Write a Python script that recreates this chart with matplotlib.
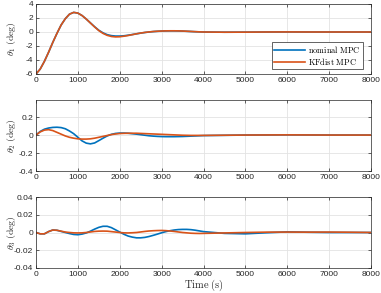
import matplotlib
matplotlib.use("Agg")
import matplotlib.pyplot as plt

plt.rcParams['mathtext.fontset'] = 'cm'
plt.rcParams['font.family'] = ['Liberation Sans', 'DejaVu Sans']

# time samples (s)
t = [0, 100, 200, 300, 400, 500, 600, 700, 800, 900, 1000, 1100, 1200, 1300,
     1400, 1500, 1600, 1700, 1800, 1900, 2000, 2100, 2200, 2300, 2400, 2500,
     2600, 2700, 2800, 2900, 3000, 3100, 3200, 3300, 3400, 3500, 3600, 3700,
     3800, 3900, 4000, 4500, 5000, 5500, 6000, 6500, 7000, 7500, 8000]

# theta1 (deg)
th1_nom = [-6.0, -5.3, -4.2, -2.9, -1.5, -0.2, 1.0, 1.9, 2.55, 2.8, 2.7, 2.35,
           1.85, 1.3, 0.75, 0.25, -0.12, -0.38, -0.52, -0.58, -0.58, -0.54,
           -0.46, -0.36, -0.26, -0.16, -0.07, 0.0, 0.06, 0.1, 0.13, 0.15, 0.16,
           0.16, 0.15, 0.13, 0.1, 0.07, 0.04, 0.02, 0.0, -0.03, -0.02, 0.0,
           0.01, 0.0, 0.0, 0.0, 0.0]
th1_kf = [-6.0, -5.3, -4.2, -2.9, -1.5, -0.2, 1.0, 1.9, 2.55, 2.8, 2.7, 2.35,
          1.85, 1.28, 0.72, 0.2, -0.2, -0.48, -0.64, -0.7, -0.68, -0.6,
          -0.5, -0.38, -0.26, -0.15, -0.06, 0.01, 0.07, 0.11, 0.14, 0.16, 0.17,
          0.17, 0.16, 0.14, 0.11, 0.08, 0.05, 0.02, 0.0, -0.03, -0.02, 0.0,
          0.01, 0.0, 0.0, 0.0, 0.0]

# theta2 (deg)
th2_nom = [0.0, 0.04, 0.065, 0.078, 0.085, 0.087, 0.083, 0.07, 0.045, 0.015,
           -0.025, -0.065, -0.09, -0.098, -0.088, -0.062, -0.035, -0.01, 0.008,
           0.018, 0.022, 0.022, 0.02, 0.015, 0.01, 0.004, -0.002, -0.008,
           -0.012, -0.015, -0.017, -0.018, -0.018, -0.018, -0.017, -0.016,
           -0.014, -0.012, -0.01, -0.008, -0.006, -0.003, 0.0, 0.001, 0.002,
           0.001, 0.0, 0.0, 0.0]
th2_kf = [0.0, 0.035, 0.055, 0.06, 0.05, 0.03, 0.01, -0.01, -0.025, -0.035,
          -0.042, -0.045, -0.045, -0.042, -0.035, -0.025, -0.015, -0.005,
          0.005, 0.012, 0.017, 0.019, 0.02, 0.02, 0.02, 0.018, 0.016, 0.014,
          0.012, 0.01, 0.008, 0.006, 0.004, 0.002, 0.0, -0.002, -0.003,
          -0.004, -0.004, -0.004, -0.004, -0.002, 0.0, 0.001, 0.002, 0.001,
          0.0, 0.0, 0.0]

# theta3 (deg)
th3_nom = [0.0, -0.0015, -0.0015, 0.001, 0.0028, 0.0025, 0.0012, 0.0, -0.0012,
           -0.0022, -0.0025, -0.0018, -0.0005, 0.0015, 0.0038, 0.0058, 0.007,
           0.007, 0.0055, 0.003, 0.0005, -0.002, -0.004, -0.0052, -0.006,
           -0.006, -0.0055, -0.0045, -0.0032, -0.0018, -0.0003, 0.001, 0.002,
           0.0028, 0.0033, 0.0035, 0.0035, 0.0032, 0.0026, 0.0018, 0.001,
           -0.001, -0.0015, -0.0003, 0.0007, 0.0003, 0.0, 0.0, 0.0]
th3_kf = [0.0, -0.0015, -0.0015, 0.001, 0.0028, 0.0025, 0.0015, 0.0005, 0.0,
          -0.0004, -0.0005, -0.0004, 0.0, 0.0006, 0.0012, 0.0015, 0.0016,
          0.0015, 0.001, 0.0005, 0.0, -0.0004, -0.0005, -0.0003, 0.0, 0.0006,
          0.0012, 0.0017, 0.002, 0.0022, 0.0023, 0.0021, 0.0017, 0.0012,
          0.0006, 0.0, -0.0004, -0.0008, -0.001, -0.0011, -0.001, -0.0005,
          0.0, 0.0004, 0.0005, 0.0004, 0.0005, 0.0003, 0.0]

blue = '#0072BD'
orange = '#D95319'
axc = '#262626'

fig = plt.figure(figsize=(3.81, 2.93), dpi=100)
L, W = 36 / 381, 335 / 381
axes_pos = [(219 / 293, 70 / 293), (122 / 293, 71 / 293), (25 / 293, 71 / 293)]
panels = [
    (th1_nom, th1_kf, (-6, 4), [-6, -4, -2, 0, 2, 4], ['-6', '-4', '-2', '0', '2', '4'], r'$\theta_1\ \mathrm{(deg)}$'),
    (th2_nom, th2_kf, (-0.4, 0.39), [-0.4, -0.2, 0, 0.2], ['-0.4', '-0.2', '0', '0.2'], r'$\theta_2\ \mathrm{(deg)}$'),
    (th3_nom, th3_kf, (-0.04, 0.04), [-0.04, -0.02, 0, 0.02, 0.04], ['-0.04', '-0.02', '0', '0.02', '0.04'], r'$\theta_3\ \mathrm{(deg)}$'),
]
xt = [0, 1000, 2000, 3000, 4000, 5000, 6000, 7000, 8000]

axs = []
for (b, h), (nom, kf, yl, yt, ytl, lab) in zip(axes_pos, panels):
    ax = fig.add_axes([L, b, W, h])
    ax.plot(t, nom, color=blue, lw=1.2, label=r'$\mathrm{nominal\ MPC}$')
    ax.plot(t, kf, color=orange, lw=1.2, label=r'$\mathrm{KFdist\ MPC}$')
    ax.set_xlim(0, 8000)
    ax.set_ylim(*yl)
    ax.set_xticks(xt)
    ax.set_xticklabels([str(v) for v in xt])
    ax.set_yticks(yt)
    ax.set_yticklabels(ytl)
    ax.grid(True, color='#e3e3e3', lw=0.6)
    ax.set_axisbelow(True)
    ax.tick_params(labelsize=6, colors=axc, length=2.5, width=0.5, direction='in', pad=2,
                   top=True, right=True)
    for s in ax.spines.values():
        s.set_color(axc)
        s.set_linewidth(0.5)
    ax.set_ylabel(lab, fontsize=7, color=axc)
    ax.yaxis.set_label_coords(-0.054, 0.5)
    axs.append(ax)

axs[2].set_xlabel(r'$\mathrm{Time\ (s)}$', fontsize=7.5, color=axc, labelpad=0)

leg = axs[0].legend(loc='lower right', bbox_to_anchor=(0.976, 0.071), borderaxespad=0,
                    fontsize=6, handlelength=3.7, borderpad=0.3,
                    labelspacing=0.05, handletextpad=0.35, fancybox=False, framealpha=1,
                    edgecolor=axc)
leg.get_frame().set_linewidth(0.5)

fig.savefig('out.png', dpi=100)
